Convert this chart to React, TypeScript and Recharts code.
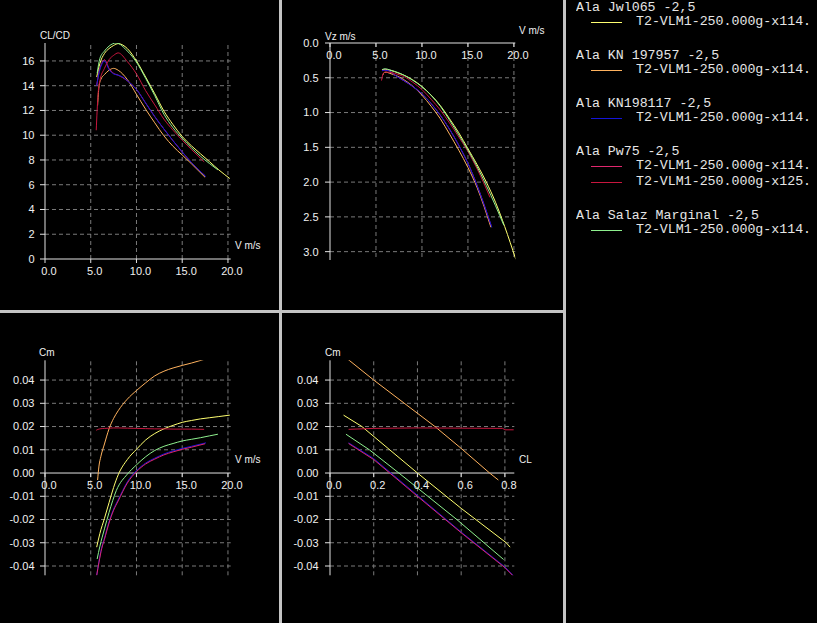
import React from 'react';
import { LineChart, Line, XAxis, YAxis, ReferenceLine, ReferenceDot } from 'recharts';

// polar readings, one set per wing (speed in m/s)
const jwlV = [5.65, 6.0, 6.5, 7.0, 7.5, 8.0, 9.0, 10, 11, 12, 13, 14, 15, 16, 17, 18, 19, 20.2];
const jwlGlide = [14.7, 15.8, 16.6, 17.0, 17.25, 17.4, 17.0, 16.0, 14.7, 13.35, 11.95, 10.85, 9.9, 9.15, 8.5, 7.85, 7.2, 6.5];
const jwlSink = [0.385, 0.38, 0.39, 0.41, 0.435, 0.46, 0.53, 0.625, 0.75, 0.9, 1.09, 1.29, 1.52, 1.75, 2.0, 2.29, 2.64, 3.11];
const jwlCm = [-0.0319, -0.026, -0.0195, -0.0128, -0.0062, -0.0008, 0.0058, 0.0102, 0.0142, 0.017, 0.019, 0.0205, 0.0218, 0.0226, 0.0233, 0.0238, 0.0243, 0.0249];
const jwlCl = [0.062, 0.146, 0.4, 0.6, 0.806, 0.824];
const jwlClCm = [0.0249, 0.02, 0.0, -0.0152, -0.03, -0.0319];

const kn1V = [5.75, 5.9, 6.1, 6.5, 7.0, 7.5, 8.0, 9.0, 10, 11, 12, 13, 14, 15, 16, 17.5];
const kn1Glide = [12.4, 13.9, 14.5, 14.9, 15.25, 15.4, 15.25, 14.5, 13.3, 12.1, 11.0, 9.95, 9.1, 8.4, 7.7, 6.6];
const kn1Sink = [0.46, 0.425, 0.42, 0.436, 0.459, 0.487, 0.525, 0.62, 0.75, 0.91, 1.09, 1.31, 1.54, 1.79, 2.08, 2.65];
const kn1Cm = [-0.003, 0.003, 0.007, 0.0125, 0.019, 0.0235, 0.0268, 0.0318, 0.0355, 0.0388, 0.0418, 0.0438, 0.0452, 0.0463, 0.0473, 0.049];
const kn1Cl = [0.081, 0.2, 0.48, 0.6, 0.73, 0.77];
const kn1ClCm = [0.049, 0.04, 0.02, 0.0106, 0.0, -0.003];

const kn2V = [5.65, 5.9, 6.2, 6.5, 7.0, 7.5, 8.0, 8.5, 9.0, 10, 11, 12, 13, 14, 15, 16, 17.6];
const kn2Glide = [14.0, 15.0, 15.7, 16.0, 15.3, 14.95, 14.85, 14.7, 14.4, 13.7, 12.6, 11.5, 10.5, 9.55, 8.65, 7.8, 6.65];
const kn2Sink = [0.4, 0.39, 0.395, 0.406, 0.457, 0.5, 0.54, 0.58, 0.625, 0.73, 0.87, 1.04, 1.24, 1.47, 1.73, 2.05, 2.65];
const kn2Cm = [-0.044, -0.038, -0.032, -0.028, -0.021, -0.0155, -0.0115, -0.0075, -0.0038, 0.001, 0.0043, 0.0064, 0.0082, 0.0095, 0.0106, 0.0115, 0.013];
const kn2Cl = [0.085, 0.2, 0.4, 0.6, 0.8, 0.838];
const kn2ClCm = [0.013, 0.0062, -0.0096, -0.0254, -0.0404, -0.0441];

const pwaV = [5.65, 5.9, 6.2, 6.5, 7.0, 7.5, 8.0, 9.0, 10, 11, 12, 13, 14, 15, 16, 17.5];
const pwaGlide = [14.0, 15.1, 15.8, 16.1, 15.4, 15.0, 14.85, 14.4, 13.7, 12.6, 11.5, 10.5, 9.55, 8.65, 7.8, 6.72];
const pwaSink = [0.4, 0.39, 0.39, 0.404, 0.455, 0.5, 0.54, 0.625, 0.73, 0.87, 1.04, 1.24, 1.47, 1.73, 2.05, 2.62];
const pwaCm = [-0.0441, -0.0384, -0.0325, -0.0285, -0.0215, -0.016, -0.012, -0.0043, 0.0006, 0.0039, 0.006, 0.0078, 0.0091, 0.0102, 0.0111, 0.0126];
const pwaCl = [0.085, 0.2, 0.4, 0.6, 0.8, 0.838];
const pwaClCm = [0.0127, 0.0058, -0.01, -0.0257, -0.0407, -0.0443];

const pwbV = [5.6, 5.7, 5.8, 6.0, 6.5, 7.0, 7.5, 8.0, 9.0, 10, 11, 12, 13, 14, 15, 16, 17.4];
const pwbGlide = [10.4, 12.0, 13.3, 14.4, 15.4, 16.1, 16.45, 16.65, 15.95, 14.95, 13.6, 12.45, 11.3, 10.4, 9.6, 8.85, 7.85];
const pwbSink = [0.54, 0.475, 0.436, 0.417, 0.422, 0.435, 0.456, 0.48, 0.564, 0.669, 0.809, 0.964, 1.15, 1.35, 1.56, 1.81, 2.22];
const pwbCm = [0.0184, 0.0186, 0.0188, 0.019, 0.0192, 0.0193, 0.0194, 0.0194, 0.0193, 0.0192, 0.0191, 0.019, 0.019, 0.0189, 0.0189, 0.0189, 0.0188];
const pwbCl = [0.085, 0.2, 0.4, 0.6, 0.79, 0.8, 0.84];
const pwbClCm = [0.0188, 0.0192, 0.0194, 0.0193, 0.0192, 0.0186, 0.0186];

const salV = [5.7, 6.0, 6.5, 7.0, 7.8, 9.0, 10, 11, 12, 13, 14, 15, 16, 17, 18, 18.9];
const salGlide = [15.0, 16.2, 16.8, 17.2, 17.45, 16.8, 15.9, 14.6, 13.2, 11.7, 10.6, 9.75, 9.0, 8.3, 7.7, 7.2];
const salSink = [0.38, 0.37, 0.387, 0.407, 0.447, 0.536, 0.63, 0.753, 0.91, 1.11, 1.32, 1.54, 1.78, 2.05, 2.34, 2.62];
const salCm = [-0.037, -0.0315, -0.024, -0.017, -0.0075, -0.0005, 0.0035, 0.007, 0.0097, 0.0115, 0.0127, 0.0138, 0.0145, 0.0152, 0.016, 0.0167];
const salCl = [0.073, 0.18, 0.315, 0.58, 0.794];
const salClCm = [0.0167, 0.01, 0.0, -0.02, -0.0372];

const speedTicks = [0, 5, 10, 15, 20];
const glideTicks = [0, 2, 4, 6, 8, 10, 12, 14, 16];
const sinkTicks = [0, 0.5, 1, 1.5, 2, 2.5, 3];
const cmTicks = [-0.04, -0.03, -0.02, -0.01, 0, 0.01, 0.02, 0.03, 0.04];
const clTicks = [0, 0.2, 0.4, 0.6, 0.8];

const legendGroups = [
  { title: 'Ala Jwl065 -2,5', polars: ['T2-VLM1-250.000g-x114.'] },
  { title: 'Ala KN 197957 -2,5', polars: ['T2-VLM1-250.000g-x114.'] },
  { title: 'Ala KN198117 -2,5', polars: ['T2-VLM1-250.000g-x114.'] },
  { title: 'Ala Pw75 -2,5', polars: ['T2-VLM1-250.000g-x114.', 'T2-VLM1-250.000g-x125.'] },
  { title: 'Ala Salaz Marginal -2,5', polars: ['T2-VLM1-250.000g-x114.'] },
];

const JWL = '#ffff70';
const KN1 = '#ffb25e';
const KN2 = '#1414d8';
const PWA = '#e0286e';
const PWB = '#c8163e';
const SAL = '#8ef08e';
const legendColors = [[JWL], [KN1], [KN2], [PWA, PWB], [SAL]];
const legendRows = [[8, 22], [56.3, 70], [104.3, 118], [152.3, 166.2, 182], [216.3, 230]];

const AXIS = '#e2e2e2';
const GRID = '#7a7a7a';
const TEXT = '#f0f0f0';
const FONT = '"Liberation Sans", Arial, sans-serif';
const MONO = '"Liberation Mono", "Courier New", monospace';

const pts = (xs: number[], ys: number[]) => xs.map((x, i) => ({ x, y: ys[i] }));

type Series = { key: string; color: string; data: { x: number; y: number }[] };

const xTickMark = (x: number, y: number, text: string) => (
  <g>
    <line x1={x} x2={x} y1={y} y2={y + 4} stroke={AXIS} />
    <text x={x + 4} y={y + 12} dy="0.35em" textAnchor="middle" fill={TEXT} fontSize={11} fontFamily={FONT}>
      {text}
    </text>
  </g>
);

interface PlotProps {
  left: number;
  top: number;
  width: number;
  height: number;
  margin: { top: number; right: number; bottom: number; left: number };
  xDomain: [number, number];
  yDomain: [number, number];
  xTicks: number[];
  yTicks: number[];
  xFmt: (v: number) => string;
  yFmt: (v: number) => string;
  xAxisMode: 'bottom' | 'top' | 'zero';
  yReversed?: boolean;
  labelGap: number;
  curve: 'monotone' | 'linear';
  series: Series[];
}

const Plot = (p: PlotProps) => {
  const yTick = (props: any) => {
    const { x, y, payload } = props;
    return (
      <g>
        <line x1={x - 5} x2={x} y1={y} y2={y} stroke={AXIS} />
        <text x={x - p.labelGap} y={y} dy="0.35em" textAnchor="end" fill={TEXT} fontSize={11} fontFamily={FONT}>
          {p.yFmt(payload.value)}
        </text>
      </g>
    );
  };
  const xTick = (props: any) => xTickMark(props.x, props.y, p.xFmt(props.payload.value));

  return (
    <div style={{ position: 'absolute', left: p.left, top: p.top }}>
      <LineChart width={p.width} height={p.height} margin={p.margin}>
        {p.xTicks.filter((t) => t !== 0).map((t) => (
          <ReferenceLine key={'gx' + t} x={t} stroke={GRID} strokeDasharray="4 3" />
        ))}
        {p.yTicks.filter((t) => t !== 0).map((t) => (
          <ReferenceLine key={'gy' + t} y={t} stroke={GRID} strokeDasharray="4 3" />
        ))}
        <XAxis
          type="number"
          dataKey="x"
          domain={p.xDomain}
          ticks={p.xTicks}
          interval={0}
          allowDataOverflow
          orientation={p.xAxisMode === 'top' ? 'top' : 'bottom'}
          hide={p.xAxisMode === 'zero'}
          height={30}
          tickSize={0}
          tickMargin={0}
          tickLine={false}
          axisLine={{ stroke: AXIS }}
          tick={xTick}
        />
        <YAxis
          type="number"
          domain={p.yDomain}
          ticks={p.yTicks}
          interval={0}
          allowDataOverflow
          reversed={p.yReversed}
          width={40}
          tickSize={0}
          tickMargin={0}
          tickLine={false}
          axisLine={{ stroke: AXIS }}
          tick={yTick}
        />
        {p.xAxisMode === 'zero' && <ReferenceLine y={0} stroke={AXIS} />}
        {p.xAxisMode === 'zero' &&
          p.xTicks.map((t) => (
            <ReferenceDot
              key={'tx' + t}
              x={t}
              y={0}
              r={0}
              ifOverflow="visible"
              shape={(d: any) => xTickMark(d.cx, d.cy, p.xFmt(t))}
            />
          ))}
        {p.series.map((s) => (
          <Line
            key={s.key}
            data={s.data}
            dataKey="y"
            type={p.curve}
            stroke={s.color}
            strokeWidth={1}
            dot={false}
            activeDot={false}
            isAnimationActive={false}
          />
        ))}
      </LineChart>
    </div>
  );
};

const Title = ({ x, y, text }: { x: number; y: number; text: string }) => (
  <div
    style={{
      position: 'absolute',
      left: x,
      top: y - 6,
      lineHeight: '12px',
      fontSize: 10,
      fontFamily: FONT,
      color: TEXT,
      whiteSpace: 'nowrap',
    }}
  >
    {text}
  </div>
);

// monospace legend text, slightly narrowed glyph height so rows 12-14px apart don't collide
const legendText = (left: number, y: number) => ({
  position: 'absolute' as const,
  left,
  top: y - 6,
  lineHeight: '12px',
  fontSize: 12,
  fontFamily: MONO,
  color: '#e6e6e6',
  whiteSpace: 'pre' as const,
  transform: 'scaleX(1.105)',
  transformOrigin: 'left center',
});

const f1 = (v: number) => v.toFixed(1);
const f0 = (v: number) => v.toFixed(0);
const f2 = (v: number) => v.toFixed(2);

export default function App() {
  const glideSeries: Series[] = [
    { key: 'jwl', color: JWL, data: pts(jwlV, jwlGlide) },
    { key: 'kn1', color: KN1, data: pts(kn1V, kn1Glide) },
    { key: 'pwa', color: PWA, data: pts(pwaV, pwaGlide) },
    { key: 'kn2', color: KN2, data: pts(kn2V, kn2Glide) },
    { key: 'pwb', color: PWB, data: pts(pwbV, pwbGlide) },
    { key: 'sal', color: SAL, data: pts(salV, salGlide) },
  ];
  const sinkSeries: Series[] = [
    { key: 'jwl', color: JWL, data: pts(jwlV, jwlSink) },
    { key: 'kn1', color: KN1, data: pts(kn1V, kn1Sink) },
    { key: 'pwa', color: PWA, data: pts(pwaV, pwaSink) },
    { key: 'kn2', color: KN2, data: pts(kn2V, kn2Sink) },
    { key: 'pwb', color: PWB, data: pts(pwbV, pwbSink) },
    { key: 'sal', color: SAL, data: pts(salV, salSink) },
  ];
  const cmSeries: Series[] = [
    { key: 'jwl', color: JWL, data: pts(jwlV, jwlCm) },
    { key: 'kn1', color: KN1, data: pts(kn1V, kn1Cm) },
    { key: 'kn2', color: KN2, data: pts(kn2V, kn2Cm) },
    { key: 'pwa', color: PWA, data: pts(pwaV, pwaCm) },
    { key: 'pwb', color: PWB, data: pts(pwbV, pwbCm) },
    { key: 'sal', color: SAL, data: pts(salV, salCm) },
  ];
  const cmClSeries: Series[] = [
    { key: 'jwl', color: JWL, data: pts(jwlCl, jwlClCm) },
    { key: 'kn1', color: KN1, data: pts(kn1Cl, kn1ClCm) },
    { key: 'kn2', color: KN2, data: pts(kn2Cl, kn2ClCm) },
    { key: 'pwa', color: PWA, data: pts(pwaCl, pwaClCm) },
    { key: 'pwb', color: PWB, data: pts(pwbCl, pwbClCm) },
    { key: 'sal', color: SAL, data: pts(salCl, salClCm) },
  ];

  return (
    <div style={{ position: 'fixed', left: 0, top: 0, width: 817, height: 623, background: '#000', overflow: 'hidden' }}>
      <Plot
        left={0}
        top={0}
        width={279}
        height={310}
        margin={{ top: 43, right: 48.3, bottom: 21, left: 5 }}
        xDomain={[0, 20.3]}
        yDomain={[0, 17.45]}
        xTicks={speedTicks}
        yTicks={glideTicks}
        xFmt={f1}
        yFmt={f0}
        xAxisMode="bottom"
        labelGap={10.5}
        curve="monotone"
        series={glideSeries}
      />
      <Plot
        left={282}
        top={0}
        width={281}
        height={310}
        margin={{ top: 13, right: 47.7, bottom: 50, left: 8 }}
        xDomain={[0, 20.15]}
        yDomain={[0, 3.12]}
        yReversed
        xTicks={speedTicks}
        yTicks={sinkTicks}
        xFmt={f1}
        yFmt={f1}
        xAxisMode="top"
        labelGap={11.5}
        curve="monotone"
        series={sinkSeries}
      />
      <Plot
        left={0}
        top={313}
        width={279}
        height={310}
        margin={{ top: 47.3, right: 48.3, bottom: 47.7, left: 5 }}
        xDomain={[0, 20.3]}
        yDomain={[-0.044, 0.0485]}
        xTicks={speedTicks}
        yTicks={cmTicks}
        xFmt={f1}
        yFmt={f2}
        xAxisMode="zero"
        labelGap={10.5}
        curve="monotone"
        series={cmSeries}
      />
      <Plot
        left={282}
        top={313}
        width={281}
        height={310}
        margin={{ top: 47.3, right: 48.7, bottom: 47.7, left: 8 }}
        xDomain={[0, 0.843]}
        yDomain={[-0.044, 0.0485]}
        xTicks={clTicks}
        yTicks={cmTicks}
        xFmt={f1}
        yFmt={f2}
        xAxisMode="zero"
        labelGap={11.5}
        curve="linear"
        series={cmClSeries}
      />

      <Title x={40} y={36} text="CL/CD" />
      <Title x={235} y={246} text="V m/s" />
      <Title x={325} y={36.5} text="Vz m/s" />
      <Title x={519} y={31} text="V m/s" />
      <Title x={39} y={353} text="Cm" />
      <Title x={235} y={459.5} text="V m/s" />
      <Title x={325} y={353} text="Cm" />
      <Title x={519} y={459.5} text="CL" />

      {/* panel separators */}
      <div style={{ position: 'absolute', left: 279, top: 0, width: 3, height: 623, background: '#c4c4c4' }} />
      <div style={{ position: 'absolute', left: 0, top: 310, width: 563, height: 3, background: '#c4c4c4' }} />
      <div style={{ position: 'absolute', left: 563, top: 0, width: 3, height: 623, background: '#c4c4c4' }} />

      {/* legend panel */}
      {legendGroups.map((g, gi) => (
        <React.Fragment key={g.title}>
          <div style={legendText(576, legendRows[gi][0])}>{g.title}</div>
          {g.polars.map((pl, pi) => (
            <React.Fragment key={pl}>
              <div
                style={{
                  position: 'absolute',
                  left: 591,
                  top: legendRows[gi][pi + 1] - 0.5,
                  width: 31,
                  height: 1,
                  background: legendColors[gi][pi],
                }}
              />
              <div style={legendText(636, legendRows[gi][pi + 1])}>{pl}</div>
            </React.Fragment>
          ))}
        </React.Fragment>
      ))}
    </div>
  );
}
